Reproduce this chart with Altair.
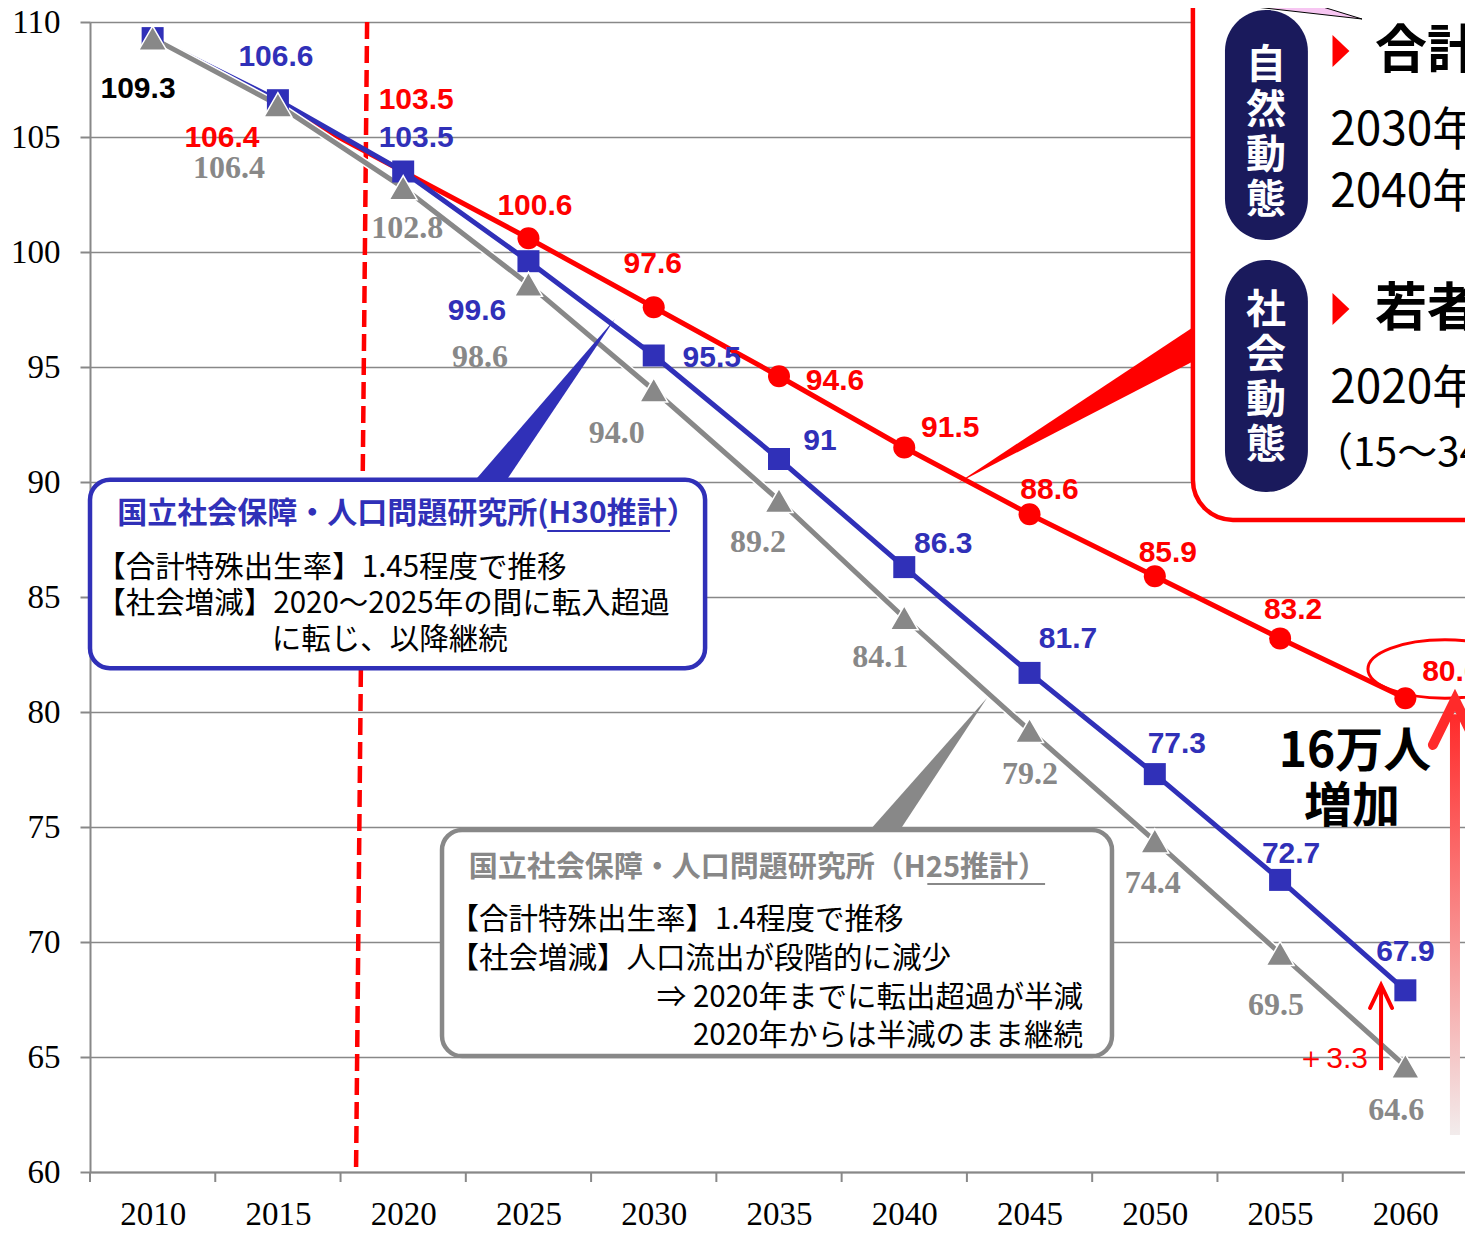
import altair as alt
import pandas as pd

# ---------------- data ----------------
years = [2010, 2015, 2020, 2025, 2030, 2035, 2040, 2045, 2050, 2055, 2060]
target = [109.3, 106.4, 103.5, 100.6, 97.6, 94.6, 91.5, 88.6, 85.9, 83.2, 80.6]
ipss_h30 = [109.3, 106.6, 103.5, 99.6, 95.5, 91.0, 86.3, 81.7, 77.3, 72.7, 67.9]
ipss_h25 = [109.3, 106.4, 102.8, 98.6, 94.0, 89.2, 84.1, 79.2, 74.4, 69.5, 64.6]
y_ticks = [60, 65, 70, 75, 80, 85, 90, 95, 100, 105, 110]
x_tick_marks = [2007.5, 2012.5, 2017.5, 2022.5, 2027.5, 2032.5, 2037.5,
                2042.5, 2047.5, 2052.5, 2057.5, 2062.5]

# label offsets in pixels (None = no label)
red_dx = [None, -56, 13, 6.5, -1, 56, 46, 20, 13, 13, 46]
red_dy = [None, 33, -72, -32, -43, 5, -20, -24, -23, -28, -26]
blue_dx = [None, -2, 13, -51.5, 58, 41, 39, 38.5, 22, 11, 0]
blue_dy = [None, -43, -34, 50, 2, -18, -23, -34, -30, -26, -38]
gray_dx = [None, -49, 4, -48.5, -37, -21, -24, 0.5, -2, -4, -9]
gray_dy = [None, 63, 40, 73, 43, 42, 39, 44, 42, 51.5, 44]
base_dx, base_dy = -14.6, 51

# ---------------- layout ----------------
PXX = 1378 / 55.0          # pixels per year
PXY = 23.0                 # pixels per unit
W, H = 1375, 1150
X0, Y0, Y1 = 2007.5, 60, 110
X1 = X0 + W / PXX

RED = "#FF0000"
BLUE = "#3030B8"
GRAY = "#888888"
NAVY = "#1A1A5C"
JP = "Noto Sans CJK JP"

XS = alt.Scale(domain=[X0, X1], nice=False, zero=False)
YS = alt.Scale(domain=[Y0, Y1], nice=False, zero=False)

XAXIS = alt.Axis(values=years, format="d", tickSize=0, labelFont="Liberation Serif",
                 labelFontSize=33, labelColor="black", labelPadding=26,
                 domainColor=GRAY, domainWidth=2, grid=False, title=None,
                 labelFlush=False, labelOverlap=False)
YAXIS = alt.Axis(values=y_ticks, tickSize=10, tickColor=GRAY, tickWidth=2,
                 labelFont="Liberation Serif", labelFontSize=33, labelColor="black",
                 labelPadding=20, domainColor=GRAY, domainWidth=2, grid=True,
                 gridColor=GRAY, gridWidth=1.5, title=None, labelFlush=False,
                 labelOverlap=False)


def X(f):
    return alt.X(f, type="quantitative", scale=XS, axis=XAXIS)


def Y(f):
    return alt.Y(f, type="quantitative", scale=YS, axis=YAXIS)


long = pd.DataFrame(
    [dict(year=y, value=v, series="target") for y, v in zip(years, target)]
    + [dict(year=y, value=v, series="h30") for y, v in zip(years, ipss_h30)]
    + [dict(year=y, value=v, series="h25") for y, v in zip(years, ipss_h25)]
)


def labels(vals, dxs, dys, fmt):
    rows = []
    for yr, v, dx, dy in zip(years, vals, dxs, dys):
        if dx is None:
            continue
        rows.append(dict(lx=yr + dx / PXX, ly=v - dy / PXY, label=format(v, fmt)))
    return pd.DataFrame(rows)


layers = []

# dashed vertical line (2018)
dash = pd.DataFrame([dict(x=2018.56, y=110, x2=2018.12, y2=60.2)])
layers.append(alt.Chart(dash).mark_rule(color=RED, strokeWidth=4.5, strokeDash=[17, 7]).encode(
    x=X("x:Q"), y=Y("y:Q"), x2="x2:Q", y2="y2:Q"))

# x tick marks between categories
ticks = pd.DataFrame({"t": x_tick_marks})
layers.append(alt.Chart(ticks).mark_rule(color=GRAY, strokeWidth=2).encode(
    x=X("t:Q"), y=alt.value(H), y2=alt.value(H + 10)))

# series lines
layers.append(alt.Chart(long).transform_filter("datum.series=='target'").mark_line(
    color=RED, strokeWidth=5, strokeJoin="round").encode(x=X("year:Q"), y=Y("value:Q")))
layers.append(alt.Chart(long).transform_filter("datum.series=='h30'").mark_line(
    color=BLUE, strokeWidth=5, strokeJoin="round").encode(x=X("year:Q"), y=Y("value:Q")))
layers.append(alt.Chart(long).transform_filter("datum.series=='h25'").mark_line(
    color="white", strokeWidth=8, strokeJoin="round").encode(x=X("year:Q"), y=Y("value:Q")))
layers.append(alt.Chart(long).transform_filter("datum.series=='h25'").mark_line(
    color=GRAY, strokeWidth=5, strokeJoin="round").encode(x=X("year:Q"), y=Y("value:Q")))

# markers
layers.append(alt.Chart(long).transform_filter("datum.series=='target' && datum.year>=2025").mark_point(
    shape="circle", filled=True, color=RED, size=484, opacity=1).encode(x=X("year:Q"), y=Y("value:Q")))
layers.append(alt.Chart(long).transform_filter("datum.series=='h30'").mark_point(
    shape="square", filled=True, color=BLUE, size=484, opacity=1).encode(x=X("year:Q"), y=Y("value:Q")))
layers.append(alt.Chart(long).transform_filter("datum.series=='h25'").mark_point(
    shape="triangle-up", filled=True, fill=GRAY, stroke="white", strokeWidth=1.5,
    size=780, opacity=1).encode(x=X("year:Q"), y=Y("value:Q")))

# value labels
layers.append(alt.Chart(labels(target, red_dx, red_dy, "g")).mark_text(
    font="Liberation Sans", fontWeight="bold", fontSize=30, color=RED, align="center",
    baseline="middle").encode(x=X("lx:Q"), y=Y("ly:Q"), text="label:N"))
layers.append(alt.Chart(labels(ipss_h30, blue_dx, blue_dy, "g")).mark_text(
    font="Liberation Sans", fontWeight="bold", fontSize=30, color=BLUE, align="center",
    baseline="middle").encode(x=X("lx:Q"), y=Y("ly:Q"), text="label:N"))
layers.append(alt.Chart(labels(ipss_h25, gray_dx, gray_dy, ".1f")).mark_text(
    font="Liberation Serif", fontWeight="bold", fontSize=32, color=GRAY, align="center",
    baseline="middle").encode(x=X("lx:Q"), y=Y("ly:Q"), text="label:N"))
base_lbl = pd.DataFrame([dict(lx=years[0] + base_dx / PXX, ly=target[0] - base_dy / PXY,
                              label=format(target[0], "g"))])
layers.append(alt.Chart(base_lbl).mark_text(
    font="Liberation Sans", fontWeight="bold", fontSize=30, color="black", align="center",
    baseline="middle").encode(x=X("lx:Q"), y=Y("ly:Q"), text="label:N"))

# ---- blue callout (H30) ----
bbox = pd.DataFrame([dict(x=2007.5, x2=2032.05, y=90.1, y2=81.9)])
layers.append(alt.Chart(bbox).mark_rect(fill="white", stroke=BLUE, strokeWidth=4.5, cornerRadius=20).encode(
    x=X("x:Q"), x2="x2:Q", y=Y("y:Q"), y2="y2:Q"))
bptr = pd.DataFrame([dict(y=90.17, x=2022.95, x2=2024.18), dict(y=97.09, x=2028.45, x2=2028.45)])
layers.append(alt.Chart(bptr).mark_area(orient="horizontal", color=BLUE, opacity=1).encode(
    y=Y("y:Q"), x=X("x:Q"), x2="x2:Q"))
btitle = pd.DataFrame([dict(x=2020.15, y=88.6, t="国立社会保障・人口問題研究所(H30推計）")])
layers.append(alt.Chart(btitle).mark_text(font=JP, fontWeight="bold", fontSize=30, color=BLUE,
                                          align="center", baseline="middle").encode(
    x=X("x:Q"), y=Y("y:Q"), text="t:N"))
bul = pd.DataFrame([dict(x=2025.75, x2=2030.65, y=87.87)])
layers.append(alt.Chart(bul).mark_rule(color=BLUE, strokeWidth=2).encode(
    x=X("x:Q"), x2="x2:Q", y=Y("y:Q")))
btext = pd.DataFrame([
    dict(x=2007.75, y=86.26, t="【合計特殊出生率】1.45程度で推移"),
    dict(x=2007.75, y=84.70, t="【社会増減】2020～2025年の間に転入超過"),
    dict(x=2014.75, y=83.13, t="に転じ、以降継続"),
])
layers.append(alt.Chart(btext).mark_text(font=JP, fontSize=29.5, color="black", align="left",
                                         baseline="middle").encode(
    x=X("x:Q"), y=Y("y:Q"), text="t:N"))

# ---- gray callout (H25) ----
gbox = pd.DataFrame([dict(x=2021.55, x2=2048.29, y=74.87, y2=65.04)])
layers.append(alt.Chart(gbox).mark_rect(fill="white", stroke=GRAY, strokeWidth=4.5, cornerRadius=20).encode(
    x=X("x:Q"), x2="x2:Q", y=Y("y:Q"), y2="y2:Q"))
gptr = pd.DataFrame([dict(y=74.87, x=2038.63, x2=2039.83), dict(y=80.61, x=2043.30, x2=2043.30)])
layers.append(alt.Chart(gptr).mark_area(orient="horizontal", color=GRAY, opacity=1).encode(
    y=Y("y:Q"), x=X("x:Q"), x2="x2:Q"))
gtitle = pd.DataFrame([dict(x=2034.16, y=73.22, t="国立社会保障・人口問題研究所（H25推計）")])
layers.append(alt.Chart(gtitle).mark_text(font=JP, fontWeight="bold", fontSize=29, color=GRAY,
                                          align="center", baseline="middle").encode(
    x=X("x:Q"), y=Y("y:Q"), text="t:N"))
gul = pd.DataFrame([dict(x=2040.92, x2=2045.62, y=72.52)])
layers.append(alt.Chart(gul).mark_rule(color=GRAY, strokeWidth=2).encode(
    x=X("x:Q"), x2="x2:Q", y=Y("y:Q")))
gtext_l = pd.DataFrame([
    dict(x=2021.85, y=70.96, t="【合計特殊出生率】1.4程度で推移"),
    dict(x=2021.85, y=69.26, t="【社会増減】人口流出が段階的に減少"),
])
layers.append(alt.Chart(gtext_l).mark_text(font=JP, fontSize=29.5, color="black", align="left",
                                           baseline="middle").encode(
    x=X("x:Q"), y=Y("y:Q"), text="t:N"))
gtext_r = pd.DataFrame([
    dict(x=2047.13, y=67.57, t="⇒ 2020年までに転出超過が半減"),
    dict(x=2047.13, y=65.91, t="2020年からは半減のまま継続"),
])
layers.append(alt.Chart(gtext_r).mark_text(font=JP, fontSize=29.5, color="black", align="right",
                                           baseline="middle").encode(
    x=X("x:Q"), y=Y("y:Q"), text="t:N"))

# ---- red callout (right) ----
rbox = pd.DataFrame([dict(x=2051.52, x2=2067, y=113.5, y2=88.35)])
layers.append(alt.Chart(rbox).mark_rect(fill="white", stroke=RED, strokeWidth=4.5, cornerRadius=40).encode(
    x=X("x:Q"), x2="x2:Q", y=Y("y:Q"), y2="y2:Q"))
rptr = pd.DataFrame([dict(x=2042.14, y=89.96, y2=89.96), dict(x=2051.48, y=96.70, y2=95.22)])
layers.append(alt.Chart(rptr).mark_area(color=RED, opacity=1).encode(
    x=X("x:Q"), y=Y("y:Q"), y2="y2:Q"))
pink = pd.DataFrame([dict(y=110.96, x=2051.52, x2=2055.79), dict(y=110.13, x=2058.27, x2=2058.27)])
layers.append(alt.Chart(pink).mark_area(orient="horizontal", color="#F7C6F2", opacity=1,
                                        stroke="black", strokeWidth=1).encode(
    y=Y("y:Q"), x=X("x:Q"), x2="x2:Q"))
pills = pd.DataFrame([dict(x=2052.80, x2=2056.11, y=110.52, y2=100.52),
                      dict(x=2052.80, x2=2056.11, y=99.65, y2=89.57)])
layers.append(alt.Chart(pills).mark_rect(fill=NAVY, cornerRadius=41).encode(
    x=X("x:Q"), x2="x2:Q", y=Y("y:Q"), y2="y2:Q"))
pill_txt = pd.DataFrame([dict(x=2054.44, y=108.1, t="自\n然\n動\n態"),
                         dict(x=2054.44, y=97.45, t="社\n会\n動\n態")])
layers.append(alt.Chart(pill_txt).mark_text(font=JP, fontWeight="bold", fontSize=40, color="white",
                                            align="center", baseline="middle", lineBreak="\n",
                                            lineHeight=45).encode(
    x=X("x:Q"), y=Y("y:Q"), text="t:N"))
tri = pd.DataFrame([dict(x=2057.43, y=108.74), dict(x=2057.43, y=97.52)])
layers.append(alt.Chart(tri).mark_point(shape="M -0.53 -1 L 0.53 0 L -0.53 1 Z", filled=True,
                                        color=RED, size=1024, opacity=1).encode(
    x=X("x:Q"), y=Y("y:Q")))
rhead = pd.DataFrame([dict(x=2058.79, y=108.70, t="合計"), dict(x=2058.79, y=97.48, t="若者")])
layers.append(alt.Chart(rhead).mark_text(font=JP, fontWeight="bold", fontSize=52, color="black",
                                         align="left", baseline="middle").encode(
    x=X("x:Q"), y=Y("y:Q"), text="t:N"))
rbody = pd.DataFrame([dict(x=2057.0, y=105.26, t="2030年"), dict(x=2057.0, y=102.57, t="2040年"),
                      dict(x=2057.0, y=94.04, t="2020年")])
layers.append(alt.Chart(rbody).mark_text(font=JP, fontSize=46, color="black",
                                         align="left", baseline="middle").encode(
    x=X("x:Q"), y=Y("y:Q"), text="t:N"))
rsmall = pd.DataFrame([dict(x=2056.31, y=91.22, t="（15～34")])
layers.append(alt.Chart(rsmall).mark_text(font=JP, fontSize=40, color="black",
                                          align="left", baseline="middle").encode(
    x=X("x:Q"), y=Y("y:Q"), text="t:N"))

# ---- ellipse around 80.6 ----
ell = pd.DataFrame([dict(x=2061.58, y=81.87)])
layers.append(alt.Chart(ell).mark_point(
    shape="M -1 0 A 1 0.38 0 1 0 1 0 A 1 0.38 0 1 0 -1 0 Z", filled=False, stroke=RED,
    strokeWidth=3, size=23716, opacity=1).encode(x=X("x:Q"), y=Y("y:Q")))

# ---- big gradient arrow ----
shaft = pd.DataFrame([dict(x=2061.78, x2=2062.18, y=61.61, y2=79.9)])
layers.append(alt.Chart(shaft).mark_rect(fill={
    "gradient": "linear", "x1": 0, "y1": 1, "x2": 0, "y2": 0,
    "stops": [{"offset": 0, "color": "#F2ECEC"}, {"offset": 1, "color": "#FF2A2A"}]}).encode(
    x=X("x:Q"), x2="x2:Q", y=Y("y:Q"), y2="y2:Q"))
head = pd.DataFrame([dict(o=0, x=2061.10, y=78.57), dict(o=1, x=2061.98, y=80.52),
                     dict(o=2, x=2062.86, y=78.57)])
layers.append(alt.Chart(head).mark_line(color="#FF2A2A", strokeWidth=10, strokeCap="round",
                                        strokeJoin="miter").encode(
    x=X("x:Q"), y=Y("y:Q"), order="o:Q"))
big_txt = pd.DataFrame([dict(x=2057.99, y=78.22, t="16万人"), dict(x=2057.87, y=75.83, t="増加")])
layers.append(alt.Chart(big_txt).mark_text(font=JP, fontWeight="bold", fontSize=48, color="black",
                                           align="center", baseline="middle").encode(
    x=X("x:Q"), y=Y("y:Q"), text="t:N"))

# ---- small +3.3 arrow ----
sshaft = pd.DataFrame([dict(x=2059.03, y=64.43, y2=68.0)])
layers.append(alt.Chart(sshaft).mark_rule(color=RED, strokeWidth=4).encode(
    x=X("x:Q"), y=Y("y:Q"), y2="y2:Q"))
shead = pd.DataFrame([dict(o=0, x=2058.59, y=67.13), dict(o=1, x=2059.03, y=68.13),
                      dict(o=2, x=2059.47, y=67.13)])
layers.append(alt.Chart(shead).mark_line(color=RED, strokeWidth=4, strokeCap="round").encode(
    x=X("x:Q"), y=Y("y:Q"), order="o:Q"))
plus = pd.DataFrame([dict(x=2058.51, y=64.91, t="＋3.3")])
layers.append(alt.Chart(plus).mark_text(font="Liberation Sans", fontSize=30, color=RED,
                                        align="right", baseline="middle").encode(
    x=X("x:Q"), y=Y("y:Q"), text="t:N"))

chart = alt.layer(*layers).properties(
    width=W, height=H, autosize=alt.AutoSizeParams(type="none"),
    padding={"left": 82, "top": 14, "right": 0, "bottom": 58},
).configure_view(stroke=None).configure(background="white")

chart.save("out.html", embed_options={"renderer": "svg", "actions": False})
